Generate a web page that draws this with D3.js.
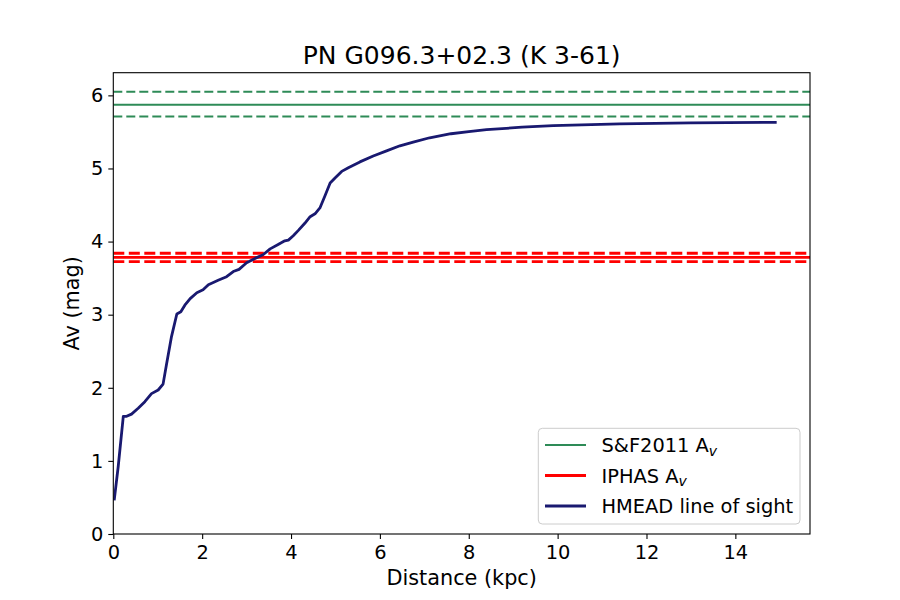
<!DOCTYPE html>
<html>
<head>
<meta charset="utf-8">
<script src="https://cdn.jsdelivr.net/npm/d3@7"></script>
<style>
  body { margin: 0; background: #fff; }
  text { font-family: "DejaVu Sans", sans-serif; fill: #000; }
</style>
</head>
<body>
<svg id="chart" width="900" height="600"></svg>
<script>
// HMEAD line of sight: distance (kpc) and extinction Av (mag)
var distance = [0.02, 0.11, 0.225, 0.30, 0.41, 0.56, 0.71, 0.86, 1.01, 1.12, 1.20, 1.31, 1.43, 1.52, 1.61, 1.73,
  1.88, 2.02, 2.14, 2.36, 2.55, 2.70, 2.83, 3.00, 3.19, 3.37, 3.53, 3.71, 3.86, 3.94, 4.05, 4.16, 4.31, 4.43,
  4.54, 4.65, 4.76, 4.88, 4.99, 5.14, 5.29, 5.55, 5.85, 6.15, 6.45, 6.75, 7.12, 7.6, 8.0, 8.4, 9.2, 9.9, 11.4, 13.0, 14.93];
var av = [0.46, 0.92, 1.61, 1.61, 1.64, 1.72, 1.81, 1.92, 1.97, 2.05, 2.33, 2.70, 3.01, 3.04, 3.13, 3.22,
  3.30, 3.34, 3.41, 3.47, 3.52, 3.59, 3.62, 3.71, 3.77, 3.82, 3.90, 3.96, 4.01, 4.02, 4.08, 4.15, 4.25, 4.34,
  4.38, 4.46, 4.62, 4.80, 4.87, 4.96, 5.01, 5.09, 5.17, 5.24, 5.31, 5.36, 5.42, 5.475, 5.505, 5.53, 5.565, 5.585, 5.61, 5.625, 5.63];

// horizontal reference values: [value, lower, upper]
var sf2011 = [5.87, 5.71, 6.05];
var iphas = [3.785, 3.725, 3.84];

var xTicks = [0, 2, 4, 6, 8, 10, 12, 14];
var yTicks = [0, 1, 2, 3, 4, 5, 6];

(function () {
  var svg = d3.select("#chart");
  var pL = 113.3, pR = 810, pT = 72.7, pB = 534;

  var x = d3.scaleLinear().domain([0, 15.68]).range([pL, pR]);
  var y = d3.scaleLinear().domain([0, 6.31]).range([pB, pT]);

  svg.append("clipPath").attr("id", "plotclip")
    .append("rect").attr("x", pL).attr("y", pT).attr("width", pR - pL).attr("height", pB - pT);

  var plot = svg.append("g").attr("clip-path", "url(#plotclip)");

  function hline(v, color, width, dash) {
    plot.append("line")
      .attr("x1", pL).attr("x2", pR)
      .attr("y1", y(v)).attr("y2", y(v))
      .attr("stroke", color).attr("stroke-width", width)
      .attr("stroke-dasharray", dash ? dash : null);
  }

  hline(sf2011[0], "#2e8b57", 2);
  hline(sf2011[1], "#2e8b57", 2, "9,4");
  hline(sf2011[2], "#2e8b57", 2, "9,4");
  hline(iphas[0], "red", 2.8);
  hline(iphas[1], "red", 2.8, "11,4.5");
  hline(iphas[2], "red", 2.8, "11,4.5");

  var line = d3.line().x(function (d, i) { return x(distance[i]); }).y(function (d) { return y(d); });
  plot.append("path").datum(av)
    .attr("d", line).attr("fill", "none")
    .attr("stroke", "#191970").attr("stroke-width", 2.8)
    .attr("stroke-linejoin", "round");

  // axes
  var xAxis = d3.axisBottom(x).tickValues(xTicks).tickFormat(d3.format("d")).tickSize(5).tickPadding(6).tickSizeOuter(0);
  var yAxis = d3.axisLeft(y).tickValues(yTicks).tickFormat(d3.format("d")).tickSize(5).tickPadding(5).tickSizeOuter(0);

  var gx = svg.append("g").attr("transform", "translate(0," + pB + ")").call(xAxis);
  var gy = svg.append("g").attr("transform", "translate(" + pL + ",0)").call(yAxis);
  [gx, gy].forEach(function (g) {
    g.select(".domain").remove();
    g.selectAll("line").attr("stroke", "#000").attr("stroke-width", 1.1);
    g.selectAll("text").style("font-size", "19.4px").attr("font-family", "DejaVu Sans").attr("fill", "#000");
  });

  svg.append("rect").attr("x", pL).attr("y", pT).attr("width", pR - pL).attr("height", pB - pT)
    .attr("fill", "none").attr("stroke", "#000").attr("stroke-width", 1.1);

  // labels
  svg.append("text").attr("x", (pL + pR) / 2).attr("y", 63.5)
    .attr("text-anchor", "middle").style("font-size", "25px").text("PN G096.3+02.3 (K 3-61)");
  svg.append("text").attr("x", (pL + pR) / 2).attr("y", 585)
    .attr("text-anchor", "middle").style("font-size", "20.8px").text("Distance (kpc)");
  svg.append("text").attr("transform", "translate(79," + (pT + pB) / 2 + ") rotate(-90)")
    .attr("text-anchor", "middle").style("font-size", "20.8px").text("Av (mag)");

  // legend
  var legend = svg.append("g");
  legend.append("rect").attr("x", 538.3).attr("y", 428.3).attr("width", 261.7).attr("height", 95.7)
    .attr("rx", 4).attr("fill", "#fff").attr("fill-opacity", 0.8).attr("stroke", "#cccccc").attr("stroke-width", 1);

  var items = [
    { label: "S&F2011 A", sub: "v", color: "#2e8b57", width: 2 },
    { label: "IPHAS A", sub: "v", color: "red", width: 2.8 },
    { label: "HMEAD line of sight", sub: null, color: "#191970", width: 2.8 }
  ];
  var rowY = d3.scalePoint().domain(d3.range(items.length)).range([445, 506]);
  items.forEach(function (it, i) {
    var yy = rowY(i);
    legend.append("line").attr("x1", 545).attr("x2", 586).attr("y1", yy).attr("y2", yy)
      .attr("stroke", it.color).attr("stroke-width", it.width);
    var t = legend.append("text").attr("x", 601.5).attr("y", yy + 7).style("font-size", "19.4px");
    t.append("tspan").text(it.label);
    if (it.sub) {
      t.append("tspan").attr("dy", 3.5).style("font-size", "14px").style("font-style", "italic").text(it.sub);
    }
  });
})();
</script>
</body>
</html>
